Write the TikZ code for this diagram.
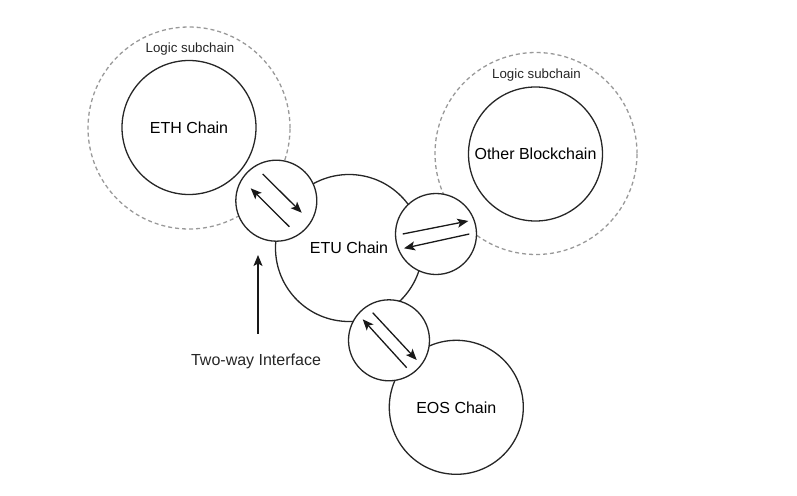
\documentclass[tikz,border=0pt]{standalone}
\usepackage{fontspec}
\setmainfont{Liberation Sans}
\usetikzlibrary{arrows.meta}
\begin{document}
\begin{tikzpicture}[x=1pt,y=-1pt,
  chain/.style={circle,draw=black!85,line width=1.3pt,fill=white,inner sep=0pt,font=\fontsize{16}{19}\selectfont},
  iface/.style={circle,draw=black!85,line width=1.3pt,fill=white,inner sep=0pt,minimum size=81pt},
  subchain/.style={circle,draw=black!40,line width=1.3pt,dash pattern=on 4pt off 3pt,inner sep=0pt,minimum size=202pt},
  sublabel/.style={font=\fontsize{13.3}{16}\selectfont,text=black!85},
  arr/.style={line width=1.3pt,draw=black!90,-{Stealth[length=11pt,width=9pt,inset=2.5pt]}}
]
\useasboundingbox (0,0) rectangle (797,495);
% logic subchains
\node[subchain] (sub1) at (189,128) {};
\node[sublabel] (sub1lbl) at (190,49) {Logic subchain};
\node[subchain] (sub2) at (536,153.5) {};
\node[sublabel] (sub2lbl) at (536.5,75.5) {Logic subchain};
% chains
\node[chain,minimum size=134pt] (eth) at (189,127.5) {ETH Chain};
\node[chain,minimum size=134pt] (other) at (535.5,154) {Other Blockchain};
\node[chain,minimum size=147pt] (etu) at (349,248) {ETU Chain};
\node[chain,minimum size=134pt] (eos) at (456.3,407.3) {EOS Chain};
% interfaces
\node[iface] (i1) at (276.3,200.7) {};
\node[iface] (i2) at (436,234) {};
\node[iface] (i3) at (389,340.3) {};
% arrows inside interfaces
\draw[arr] ([shift={(-13.6,-26.7)}]i1.center) -- ([shift={(25.4,12)}]i1.center);
\draw[arr] ([shift={(13,26)}]i1.center) -- ([shift={(-25.6,-12.4)}]i1.center);
\draw[arr] ([shift={(-33.3,0)}]i2.center) -- ([shift={(32.3,-13)}]i2.center);
\draw[arr] ([shift={(33.3,0)}]i2.center) -- ([shift={(-32,14.3)}]i2.center);
\draw[arr] ([shift={(-16.3,-27.6)}]i3.center) -- ([shift={(27.7,19.7)}]i3.center);
\draw[arr] ([shift={(17.7,27.4)}]i3.center) -- ([shift={(-26.3,-21)}]i3.center);
% two-way interface label
\node[font=\fontsize{16}{19}\selectfont,text=black!85] (twl) at (256,361.5) {Two-way Interface};
\coordinate (tip) at (258,255);
\draw[arr] (258,333.5) -- (tip);
\end{tikzpicture}
\end{document}
